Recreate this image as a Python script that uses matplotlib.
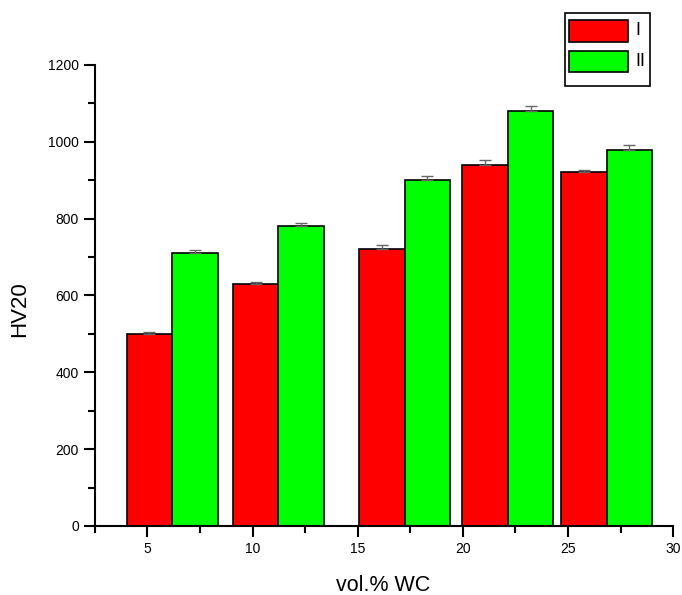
import matplotlib
matplotlib.use("Agg")
import matplotlib.pyplot as plt
from matplotlib.patches import Rectangle
from matplotlib.ticker import MultipleLocator

# red bar centres on the x axis (vol.% WC)
x_pos = [5.1, 10.15, 16.15, 21.05, 25.75]
hv_I = [500, 631, 721, 940, 920]
hv_II = [710, 780, 900, 1079, 979]
err_I = [5, 5, 10, 12, 7]
err_II = [7, 9, 12, 13, 12]
labels = ["I", "II"]
colors = ["#ff0000", "#00ff00"]

plt.rcParams['font.family'] = ['Liberation Sans', 'DejaVu Sans']

def main():
    fig = plt.figure(figsize=(6.82, 5.95), dpi=100)
    ax = fig.add_axes([0.139, 0.116, 0.848, 0.775])
    w = 2.17
    x2 = [x + w for x in x_pos]

    ax.bar(x_pos, hv_I, width=w, color=colors[0], edgecolor="black", linewidth=1.2, zorder=2)
    ax.bar(x2, hv_II, width=w, color=colors[1], edgecolor="black", linewidth=1.2, zorder=2)
    ax.errorbar(x_pos, hv_I, yerr=[[0] * 5, err_I], fmt="none", ecolor="#666666",
                elinewidth=1, capsize=4, capthick=1, zorder=3)
    ax.errorbar(x2, hv_II, yerr=[[0] * 5, err_II], fmt="none", ecolor="#666666",
                elinewidth=1, capsize=4, capthick=1, zorder=3)

    ax.set_xlim(2.5, 30)
    ax.set_ylim(0, 1200)
    ax.xaxis.set_major_locator(MultipleLocator(5))
    ax.xaxis.set_minor_locator(MultipleLocator(2.5))
    ax.yaxis.set_major_locator(MultipleLocator(200))
    ax.yaxis.set_minor_locator(MultipleLocator(100))
    ax.tick_params(which="major", direction="out", length=8, width=1.5, labelsize=10)
    ax.tick_params(which="minor", direction="out", length=5, width=1.5)
    ax.spines["top"].set_visible(False)
    ax.spines["right"].set_visible(False)
    ax.spines["left"].set_linewidth(1.5)
    ax.spines["bottom"].set_linewidth(1.5)

    ax.set_xlabel("vol.% WC", fontsize=15.5, va="center")
    ax.set_ylabel("HV20", fontsize=16, va="center")
    ax.xaxis.set_label_coords(0.498, -0.13)
    ax.yaxis.set_label_coords(-0.13, 0.47)

    # legend box drawn by hand, Origin style (box above the plot)
    tf = fig.transFigure
    fig.add_artist(Rectangle((0.8284, 0.8555), 0.1246, 0.1232, transform=tf,
                             facecolor="white", edgecolor="black", linewidth=1.2))
    ys = [0.9299, 0.8785]
    for y, c, lab in zip(ys, colors, labels):
        fig.add_artist(Rectangle((0.8343, y), 0.0865, 0.0365, transform=tf,
                                 facecolor=c, edgecolor="black", linewidth=1.2))
        fig.text(0.932, y + 0.018, lab, transform=tf, fontsize=13, va="center", ha="left")

    fig.savefig("out.png", dpi=100)

if __name__ == '__main__':
    main()
